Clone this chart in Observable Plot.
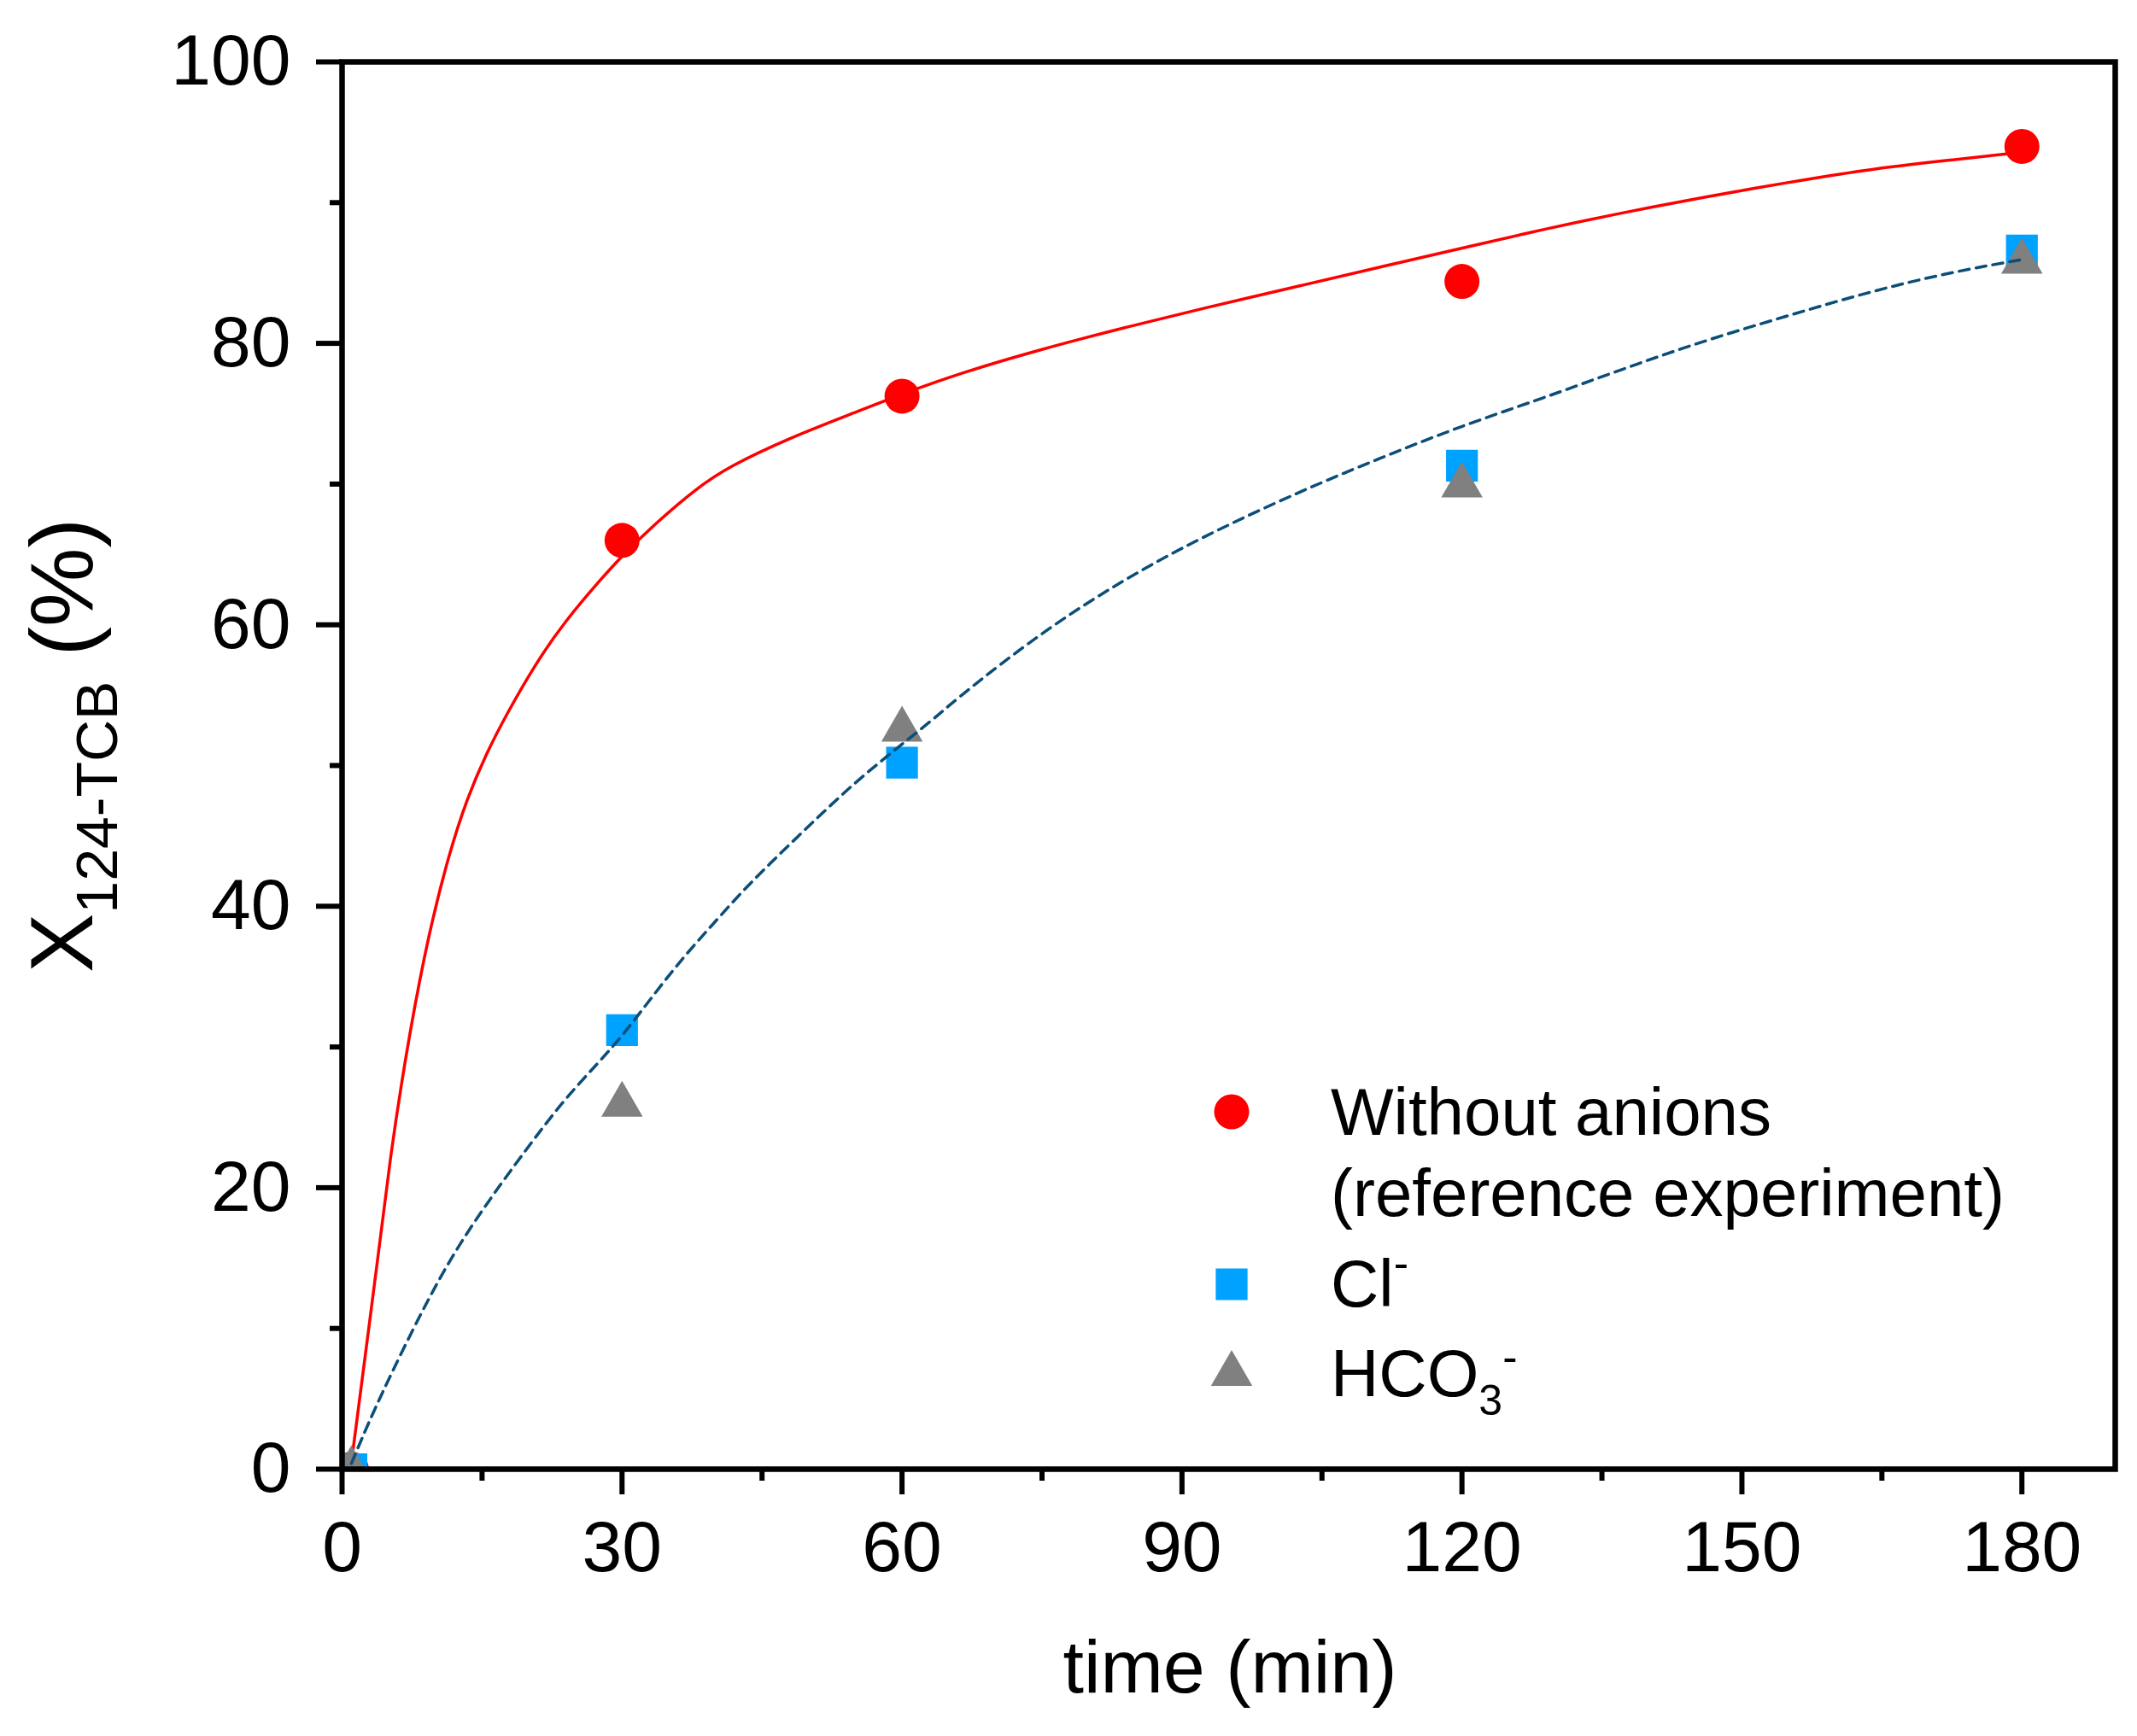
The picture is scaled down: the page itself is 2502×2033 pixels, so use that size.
<!DOCTYPE html>
<html>
<head>
<meta charset="utf-8">
<script src="https://cdn.jsdelivr.net/npm/d3@7"></script>
<script src="https://cdn.jsdelivr.net/npm/@observablehq/plot@0.6"></script>
<style>
  body { margin: 0; background: #fff; }
</style>
</head>
<body>
<div id="chart"></div>
<script>
// puntos experimentales (min, %)
const tiempo = [1, 30, 60, 120, 180]
const sinAniones = [0, 66.0, 76.25, 84.4, 94.0]
const cloruro = [0, 31.2, 50.2, 71.3, 86.6]
const bicarbonato = [0, 25.9, 52.55, 69.9, 85.8]

// curva de ajuste roja
const tiempoAjusteRojo = [1, 3.2, 5.2, 7.3, 9.3, 11.4, 13.4, 15.5, 17.5, 20.8, 23.7, 27.8, 30, 33.9, 38, 41.3, 48, 55, 60, 66.3, 75, 83.7, 92.3, 102.7, 111.4, 120.2, 128.7, 137.3, 146, 154.6, 163.3, 171.9, 178.9, 180]
const ajusteRojo = [0.5, 11.6, 22.6, 31.3, 38.1, 43.6, 47.7, 50.9, 53.5, 57.3, 60.1, 63.3, 64.9, 67.4, 69.7, 71.2, 73.3, 75.1, 76.4, 77.9, 79.6, 81.1, 82.5, 84.1, 85.45, 86.8, 88.1, 89.3, 90.4, 91.4, 92.35, 93.0, 93.5, 93.6]

// curva de ajuste punteada
const tiempoAjusteAzul = [1, 3.2, 7.3, 11.4, 15.5, 19.6, 23.7, 27.5, 30.3, 33.6, 36.6, 39.7, 42.8, 45.8, 48.9, 51.9, 55, 58, 61.1, 64.1, 66.3, 75, 83.7, 92.3, 102.7, 111.4, 120.2, 128.7, 137.3, 146, 154.6, 163.3, 171.9, 180.4]
const ajusteAzul = [0.4, 3.9, 9.6, 14.8, 18.9, 22.6, 26.2, 28.9, 31.0, 33.9, 36.4, 38.7, 41.0, 43.0, 45.0, 46.9, 48.8, 50.45, 52.1, 53.7, 55.0, 59.5, 63.2, 66.3, 69.5, 71.9, 74.2, 76.1, 78.2, 80.2, 81.9, 83.6, 85.0, 86.0]

// ticks
const ticksX = [0, 30, 60, 90, 120, 150, 180]
const ticksXMenor = [15, 45, 75, 105, 135, 165]
const ticksY = [0, 20, 40, 60, 80, 100]
const ticksYMenor = [10, 30, 50, 70, 90]

const rojo = '#ff0000', celeste = '#00a2ff', gris = '#808080', azul = '#0b4f79'
const fuente = '"Liberation Sans", Arial, sans-serif'

const tabla = (xs, ys) => xs.map((t, i) => ({t, v: ys[i]}))

let chart = Plot.plot({
  width: 2502,
  height: 2033,
  marginLeft: 400,
  marginRight: 26,
  marginTop: 72,
  marginBottom: 313,
  style: {fontFamily: fuente, background: 'white', color: 'black'},
  x: {domain: [0, 190]},
  y: {domain: [0, 100]},
  marks: [
    Plot.axisX({ticks: ticksX, tickSize: 30, tickPadding: 30, strokeWidth: 6, fontSize: 84, label: null}),
    Plot.axisX({ticks: ticksXMenor, tickSize: 14, tickFormat: () => '', strokeWidth: 6, label: null}),
    Plot.axisY({ticks: ticksY, tickSize: 30, tickPadding: 30, strokeWidth: 6, fontSize: 84, label: null}),
    Plot.axisY({ticks: ticksYMenor, tickSize: 14, tickFormat: () => '', strokeWidth: 6, label: null}),
    Plot.line(tabla(tiempoAjusteRojo, ajusteRojo), {x: 't', y: 'v', stroke: rojo, strokeWidth: 3.5, curve: 'basis'}),
    Plot.dot(tabla(tiempo, sinAniones), {x: 't', y: 'v', symbol: 'circle', r: 20.5, fill: rojo, clip: true}),
    Plot.dot(tabla(tiempo, cloruro), {x: 't', y: 'v', symbol: 'square', r: 21, fill: celeste, clip: true}),
    Plot.dot(tabla(tiempo, bicarbonato), {x: 't', y: 'v', symbol: 'triangle', r: 18, fill: gris, clip: true}),
    Plot.line(tabla(tiempoAjusteAzul, ajusteAzul), {x: 't', y: 'v', stroke: azul, strokeWidth: 3.5, strokeDasharray: '12,8', curve: 'basis'}),
    Plot.frame({stroke: 'black', strokeWidth: 6.5})
  ]
})

const svg = d3.select(chart)

// titulo eje y con subindice
const ty = svg.append('text')
  .attr('transform', 'translate(108,1139) rotate(-90)')
  .attr('text-anchor', 'start')
  .attr('font-family', fuente).attr('font-size', 104).attr('fill', 'black')
ty.append('tspan').text('X')
ty.append('tspan').attr('font-size', 68).attr('dy', 29).text('124-TCB')
ty.append('tspan').attr('font-size', 104).attr('dy', -29).text('\u00a0(%)')

// titulo eje x
svg.append('text')
  .attr('x', 1440).attr('y', 1982).attr('text-anchor', 'middle')
  .attr('font-family', fuente).attr('font-size', 88).attr('fill', 'black')
  .text('time (min)')

// leyenda
const leyenda = svg.append('g')
  .attr('font-family', fuente).attr('font-size', 78).attr('fill', 'black')
  .attr('text-anchor', 'start')
leyenda.append('path').attr('transform', 'translate(1442,1302)')
  .attr('d', d3.symbol(d3.symbolCircle, Math.PI * 20.5 * 20.5)()).attr('fill', rojo)
leyenda.append('path').attr('transform', 'translate(1442,1504)')
  .attr('d', d3.symbol(d3.symbolSquare, Math.PI * 21 * 21)()).attr('fill', celeste)
leyenda.append('path').attr('transform', 'translate(1442,1609)')
  .attr('d', d3.symbol(d3.symbolTriangle, Math.PI * 18 * 18)()).attr('fill', gris)

leyenda.append('text').attr('x', 1558).attr('y', 1329).text('Without anions')
leyenda.append('text').attr('x', 1558).attr('y', 1424).text('(reference experiment)')
const cl = leyenda.append('text').attr('x', 1558).attr('y', 1530)
cl.append('tspan').text('Cl')
cl.append('tspan').attr('font-size', 52).attr('dy', -33).text('-')
const hco = leyenda.append('text').attr('x', 1558).attr('y', 1635)
hco.append('tspan').text('HCO')
hco.append('tspan').attr('font-size', 50).attr('dy', 22).text('3')
hco.append('tspan').attr('font-size', 52).attr('dy', -50).text('-')

d3.select('#chart').append(() => chart)
</script>
</body>
</html>
